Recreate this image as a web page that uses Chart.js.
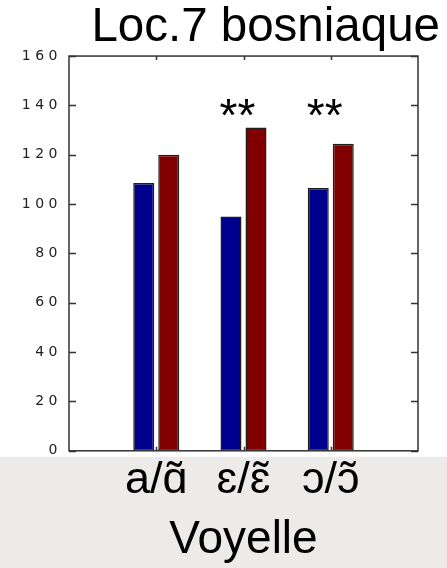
<!DOCTYPE html>
<html>
<head>
<meta charset="utf-8">
<script src="https://cdn.jsdelivr.net/npm/chart.js@4/dist/chart.umd.min.js"></script>
<style>
  html, body { margin: 0; padding: 0; background: #fff; }
  canvas { display: block; }
</style>
</head>
<body>
<canvas id="c" width="447" height="568"></canvas>
<script>
// ---- data ----
const categories = ['a/\u0251\u0303', '\u025B/\u025B\u0303', '\u0254/\u0254\u0303'];
const oralValues = [108.5, 95, 106.5];
const nasalValues = [120, 131, 124.5];
const significance = ['', '**', '**'];
const yTickValues = [0, 20, 40, 60, 80, 100, 120, 140, 160];
const titleText = 'Loc.7 bosniaque';
const xAxisTitle = 'Voyelle';
const significanceLevel = 140;

// padded labels so categories sit at 1..3 of a 0..4 axis
const labels = [''].concat(categories, ['']);
const pad = arr => [null].concat(arr, [null]);

const FONT = 'Liberation Sans';

const deco = {
  id: 'deco',
  beforeDraw(chart) {
    const { ctx, chartArea: a, width, height } = chart;
    ctx.letterSpacing = '0px';
    ctx.save();
    ctx.fillStyle = '#ffffff';
    ctx.fillRect(0, 0, width, height);
    ctx.fillStyle = '#ECEBE9';
    ctx.fillRect(0, a.bottom + 6, width, height - a.bottom - 6);
    ctx.restore();
  },
  afterDatasetsDraw(chart) {
    chart.ctx.letterSpacing = '4.5px';
  },
  afterDraw(chart) {
    const { ctx, chartArea: a, scales } = chart;
    ctx.letterSpacing = '0px';
    ctx.save();
    ctx.strokeStyle = '#333333';
    ctx.lineWidth = 1.5;
    ctx.strokeRect(a.left, a.top, a.right - a.left, a.bottom - a.top);
    ctx.beginPath();
    scales.y.ticks.forEach(t => {
      const py = Math.round(scales.y.getPixelForValue(t.value)) + 0.5;
      ctx.moveTo(a.left, py); ctx.lineTo(a.left + 7, py);
      ctx.moveTo(a.right, py); ctx.lineTo(a.right - 7, py);
    });
    categories.forEach((c, i) => {
      const px = Math.round(scales.x.getPixelForValue(i + 1)) + 0.5;
      ctx.moveTo(px, a.top); ctx.lineTo(px, a.top + 4);
      ctx.moveTo(px, a.bottom); ctx.lineTo(px, a.bottom - 4);
    });
    ctx.stroke();
    ctx.fillStyle = '#000';
    ctx.font = '46px "' + FONT + '"';
    ctx.textAlign = 'center';
    ctx.textBaseline = 'alphabetic';
    significance.forEach((s, i) => {
      if (!s) return;
      const px = scales.x.getPixelForValue(i + 1) - 6;
      const py = scales.y.getPixelForValue(significanceLevel) + 26;
      ctx.fillText(s, px, py);
    });
    ctx.restore();
  }
};

new Chart(document.getElementById('c'), {
  type: 'bar',
  data: {
    labels: labels,
    datasets: [
      { label: 'orale', data: pad(oralValues), backgroundColor: '#00008F', borderColor: '#1e1e1e', borderWidth: 1.5, borderSkipped: false },
      { label: 'nasale', data: pad(nasalValues), backgroundColor: '#800000', borderColor: '#1e1e1e', borderWidth: 1.5, borderSkipped: false }
    ]
  },
  options: {
    responsive: false,
    animation: false,
    events: [],
    categoryPercentage: 0.573,
    barPercentage: 0.84,
    layout: { padding: { left: 0, right: 7, top: 0, bottom: 0 } },
    plugins: {
      legend: { display: false },
      tooltip: { enabled: false },
      title: {
        display: true,
        text: titleText,
        align: 'end',
        color: '#000',
        font: { family: FONT, size: 47.5, weight: 'normal', lineHeight: 1.18 },
        padding: { top: 0, bottom: 0 }
      }
    },
    scales: {
      x: {
        type: 'category',
        offset: false,
        grid: { display: false, drawTicks: false },
        border: { display: false },
        ticks: { color: '#000', font: { family: FONT, size: 45 }, padding: 3, maxRotation: 0, minRotation: 0, autoSkip: false },
        title: { display: true, text: xAxisTitle, color: '#000', font: { family: FONT, size: 46 }, padding: { top: 2, bottom: 0 } }
      },
      y: {
        min: 0,
        max: 160,
        grid: { display: false, drawTicks: false },
        border: { display: false },
        afterBuildTicks(s) { s.ticks = yTickValues.map(v => ({ value: v })); },
        ticks: { z: 1, color: '#222', font: { family: 'DejaVu Sans', size: 14 }, padding: 7 },
        afterFit(s) { s.width = 69; }
      },
      y2: {
        position: 'right',
        display: true,
        grid: { display: false, drawTicks: false },
        border: { display: false },
        ticks: { display: false },
        afterFit(s) { s.width = 22; }
      }
    }
  },
  plugins: [deco]
});
</script>
</body>
</html>
